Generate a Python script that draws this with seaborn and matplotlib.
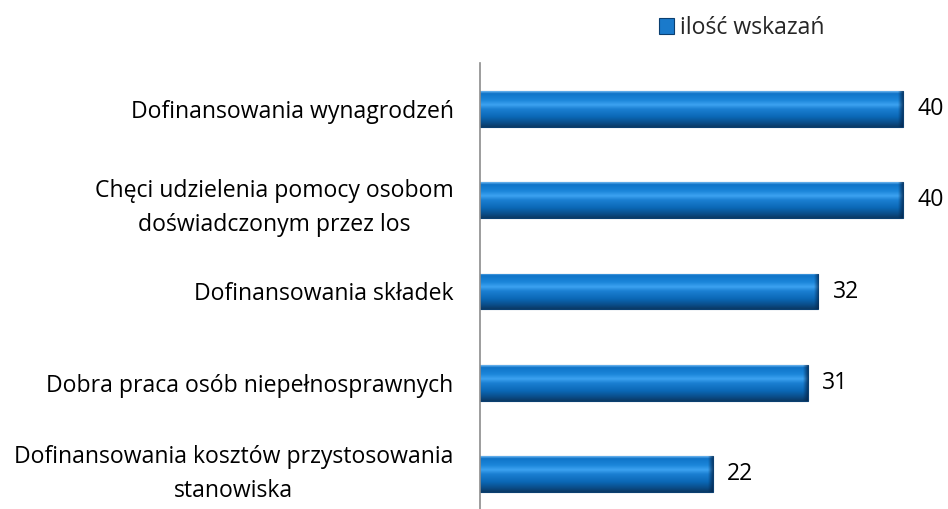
import numpy as np
import pandas as pd
import matplotlib
matplotlib.use("Agg")
import matplotlib.pyplot as plt
import matplotlib.transforms as mtransforms
import seaborn as sns
from matplotlib.colors import LinearSegmentedColormap

categories = [
    "Dofinansowania wynagrodzeń",
    "Chęci udzielenia pomocy osobom\ndoświadczonym przez los",
    "Dofinansowania składek",
    "Dobra praca osób niepełnosprawnych",
    "Dofinansowania kosztów przystosowania\nstanowiska",
]
values = [40, 40, 32, 31, 22]
series_name = "ilość wskazań"

sns.set_theme(style="white")
plt.rcParams["font.family"] = ["Open Sans", "DejaVu Sans"]
FS = 16.6

df = pd.DataFrame({"kat": categories, "val": values})

fig = plt.figure(figsize=(9.48, 5.09), dpi=100)
ax = fig.add_axes([480 / 948, -10.6 / 509, 465 / 948, 456.2 / 509])

sns.barplot(data=df, y="kat", x="val", orient="h", color="#0A6EC2",
            width=0.39, edgecolor="#0B3F70", linewidth=0.8,
            label=series_name, ax=ax)

ax.set_xlim(0, 44)
ylim = ax.get_ylim()

# bevel-like vertical gradient clipped to each bar
cmap = LinearSegmentedColormap.from_list("bev", [
    (0.0, "#6AB4EE"), (0.06, "#0F74C8"), (0.25, "#1C86DA"), (0.38, "#3CA2F0"),
    (0.5, "#1A7FD2"), (0.72, "#0B68B6"), (0.88, "#0A4F8C"), (1.0, "#0A3A66")])
grad = np.linspace(0, 1, 64).reshape(-1, 1)
for p in list(ax.patches):
    x0, y0, w, h = p.get_x(), p.get_y(), p.get_width(), p.get_height()
    im = ax.imshow(grad, cmap=cmap, aspect="auto", origin="upper",
                   extent=(x0, x0 + w, y0 + h, y0), zorder=p.get_zorder() + 0.1,
                   interpolation="bilinear")
    im.set_clip_path(p)
    end = np.linspace(0, 1, 32).reshape(1, -1)
    rgba = np.zeros((1, 32, 4))
    rgba[..., 0] = 0.02
    rgba[..., 1] = 0.15
    rgba[..., 2] = 0.30
    rgba[..., 3] = np.clip((end - 0.55) / 0.45, 0, 1) * 0.75
    im2 = ax.imshow(rgba, aspect="auto", origin="upper",
                    extent=(x0 + w - 1.0, x0 + w, y0 + h, y0),
                    zorder=p.get_zorder() + 0.2, interpolation="bilinear")
    im2.set_clip_path(p)
    ax.text(x0 + w + 1.4, y0 + h / 2, f"{w:.0f}", va="center", ha="left",
            fontsize=FS, color="#000000")

ax.set_xlim(0, 44)
ax.set_ylim(ylim)

ax.set_xlabel("")
ax.set_ylabel("")
ax.set_xticks([])
for s in ["top", "right", "bottom"]:
    ax.spines[s].set_visible(False)
ax.spines["left"].set_color("#8C8C8C")
ax.spines["left"].set_linewidth(1.2)
ax.tick_params(axis="y", length=0, pad=19)
labels = ax.get_yticklabels()
for t in labels:
    t.set_fontsize(FS)
    t.set_multialignment("center")
    t.set_color("#000000")
    t.set_linespacing(1.55)
# lift the bottom two-line label slightly so it stays inside the figure
labels[-1].set_transform(labels[-1].get_transform() +
                         mtransforms.ScaledTranslation(0, 0.08, fig.dpi_scale_trans))

leg = ax.legend(loc="center left", bbox_to_anchor=(659 / 948, 1 - 28 / 509),
                bbox_transform=fig.transFigure, frameon=False, fontsize=FS,
                handlelength=0.65, handleheight=0.65, handletextpad=0.26,
                borderpad=0, borderaxespad=0)
for hnd in leg.legend_handles:
    hnd.set_facecolor("#1A7ACB")
    hnd.set_edgecolor("#0B3F70")

fig.savefig("out.png", dpi=100, facecolor="white")
